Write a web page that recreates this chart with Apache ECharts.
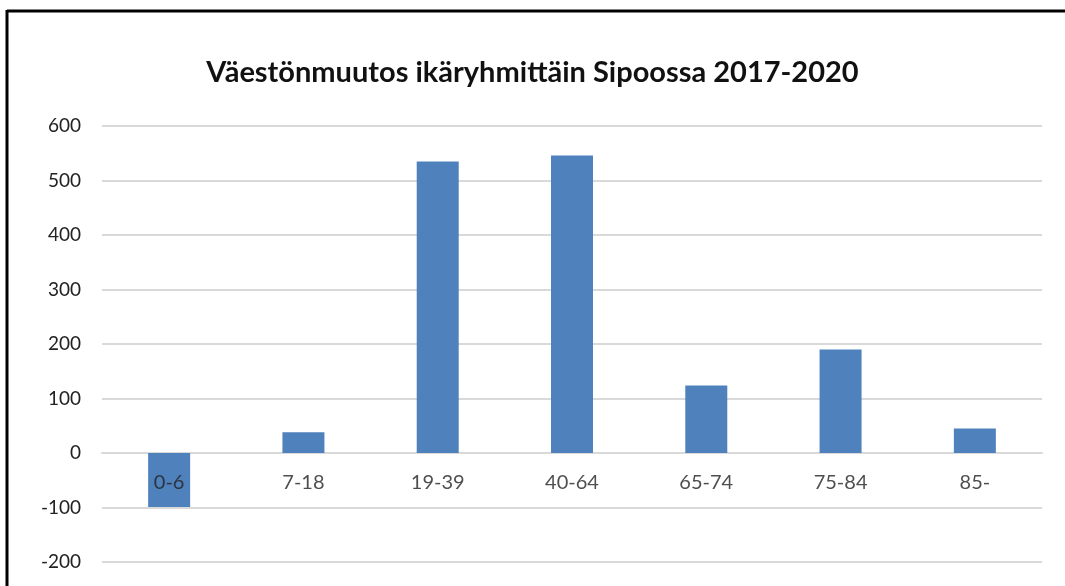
<!DOCTYPE html>
<html>
<head>
<meta charset="utf-8">
<script src="https://cdn.jsdelivr.net/npm/echarts@6/dist/echarts.min.js"></script>
<style>
html,body{margin:0;padding:0;background:#fff;}
#c{width:1065px;height:586px;}
</style>
</head>
<body>
<div id="c"></div>
<script>
const categories = ['0-6', '7-18', '19-39', '40-64', '65-74', '75-84', '85-'];
const values = [-99, 38, 535, 546, 124, 190, 45];
const yTicks = { min: -200, max: 600, interval: 100 };
const titleText = 'Väestönmuutos ikäryhmittäin Sipoossa 2017-2020';

const chart = echarts.init(document.getElementById('c'));
chart.setOption({
  backgroundColor: '#fff',
  animation: false,
  title: {
    text: titleText,
    left: 'center',
    top: 53,
    textStyle: { fontFamily: 'Lato', fontWeight: 'bold', fontSize: 29, color: '#111' }
  },
  graphic: [
    { type: 'line', shape: { x1: 7, y1: 11, x2: 1065, y2: 11 }, style: { stroke: '#000', lineWidth: 3 } },
    { type: 'line', shape: { x1: 7, y1: 10, x2: 7, y2: 586 }, style: { stroke: '#000', lineWidth: 3 } }
  ],
  grid: { left: 102, right: 23, top: 126, bottom: 24, containLabel: false, outerBoundsMode: 'none' },
  xAxis: {
    type: 'category',
    data: categories,
    axisLine: { onZero: true, lineStyle: { color: '#d9d9d9', width: 2 } },
    axisTick: { show: false },
    axisLabel: { show: false }
  },
  yAxis: {
    type: 'value',
    min: yTicks.min, max: yTicks.max, interval: yTicks.interval,
    axisLine: { show: false },
    axisTick: { show: false },
    axisLabel: { fontFamily: 'Lato', fontSize: 19, color: '#222', margin: 21 },
    splitLine: { lineStyle: { color: '#d9d9d9', width: 2 } }
  },
  series: [{
    type: 'bar',
    data: values,
    barWidth: 42,
    itemStyle: { color: '#4F81BD' },
    z: 2
  }, {
    type: 'scatter',
    data: categories.map(c => [c, 0]),
    symbolSize: 1,
    itemStyle: { color: 'rgba(0,0,0,0)' },
    silent: true,
    z: 5,
    labelLayout: { hideOverlap: false },
    label: {
      show: true,
      position: 'bottom',
      distance: 19,
      formatter: p => p.value[0],
      fontFamily: 'Lato', fontSize: 20, color: '#222'
    }
  }]
});
</script>
</body>
</html>
